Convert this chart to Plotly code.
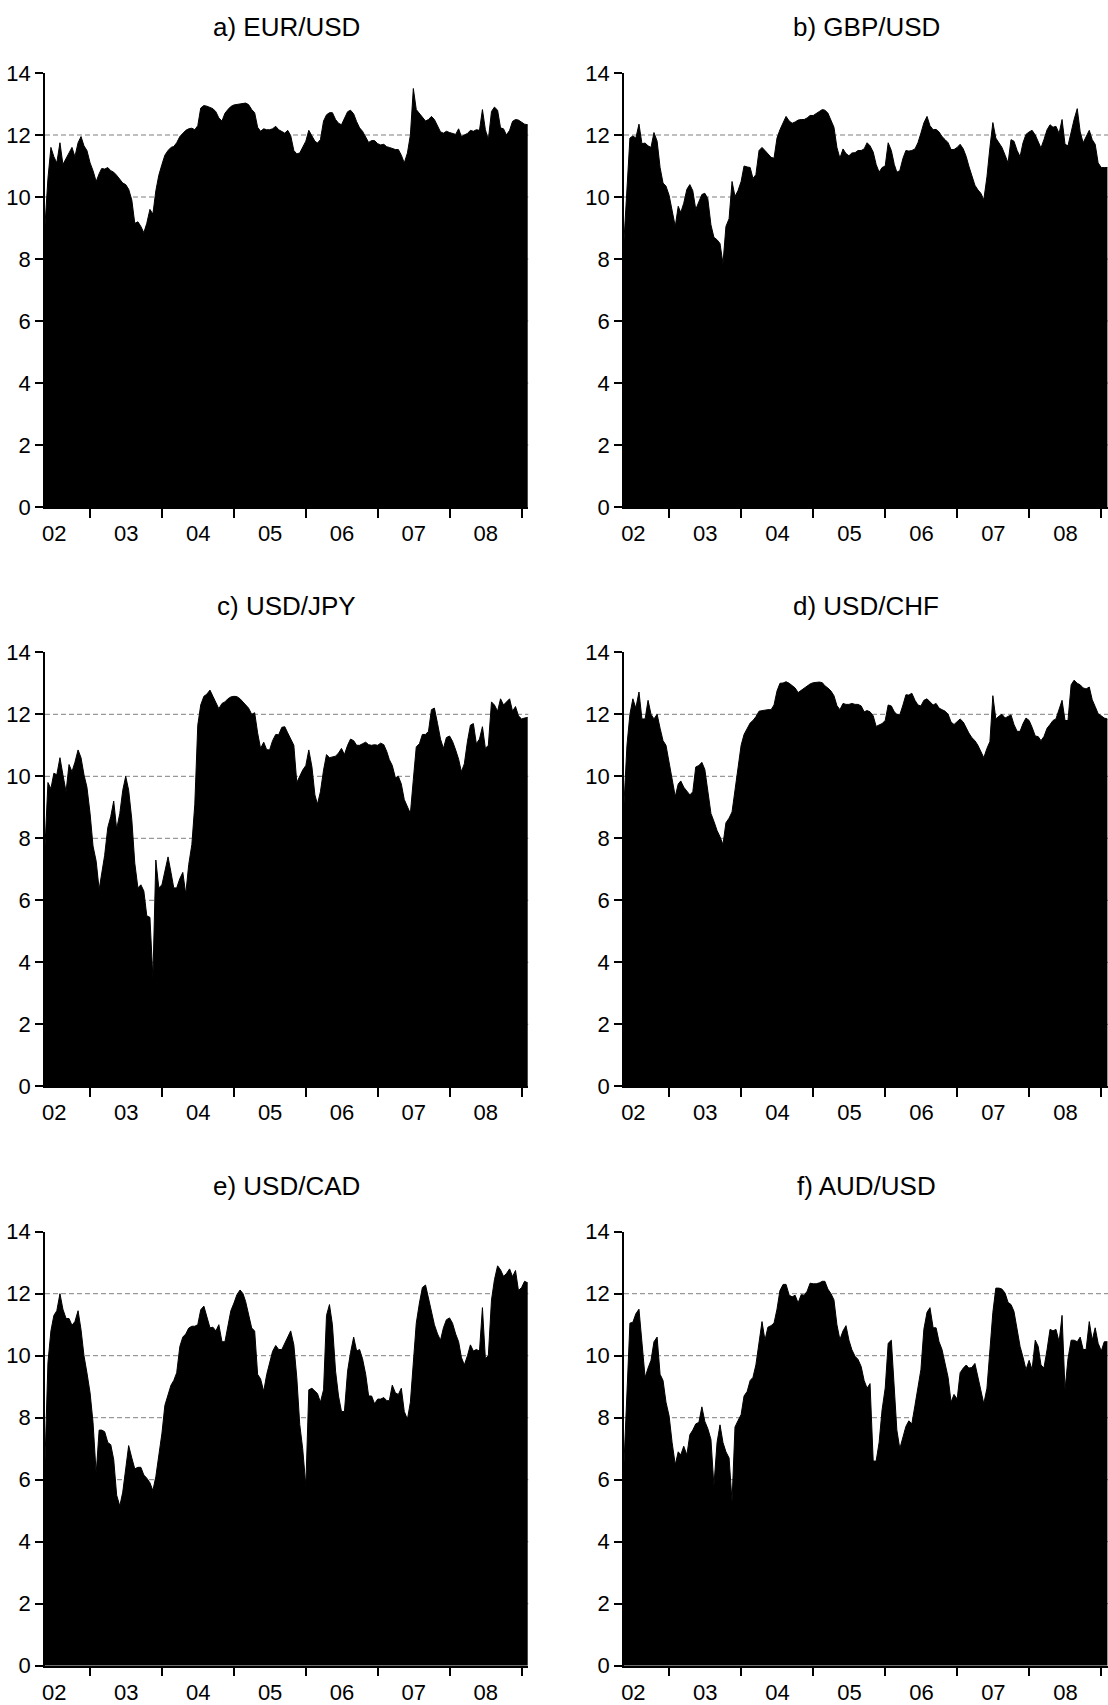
import pandas as pd
import plotly.graph_objects as go

# Semi-monthly observation dates: the 15th and the last day of each month,
# May 2002 through January 2009.
months = pd.period_range("2002-05", "2009-01", freq="M")
dates = []
for p in months:
    dates.append(p.start_time + pd.Timedelta(days=14))
    dates.append(p.end_time.normalize())

# Series values, one row per calendar year (2002 starts mid-May, 2009 ends in January).
eur_usd = (
    [9.0, 10.6, 11.6, 11.3, 11.1, 11.75, 11.05, 11.25, 11.4, 11.6, 11.3, 11.75, 11.95, 11.65, 11.5, 11.1]
    + [10.85, 10.5, 10.75, 10.92, 10.9, 10.95, 10.85, 10.8, 10.7, 10.55, 10.45, 10.4, 10.25, 9.9, 9.15, 9.2, 9.05, 8.85, 9.15, 9.6, 9.45, 10.2, 10.7, 11.05]
    + [11.35, 11.5, 11.6, 11.63, 11.75, 11.95, 12.05, 12.15, 12.2, 12.22, 12.17, 12.3, 12.87, 12.95, 12.93, 12.9, 12.85, 12.75, 12.55, 12.45, 12.7, 12.82, 12.92, 12.97]
    + [12.99, 13.01, 13.02, 13.03, 12.98, 12.82, 12.72, 12.25, 12.12, 12.2, 12.17, 12.17, 12.2, 12.28, 12.17, 12.12, 12.06, 12.15, 11.98, 11.5, 11.39, 11.42, 11.6, 11.8]
    + [12.15, 11.96, 11.8, 11.74, 11.85, 12.45, 12.65, 12.72, 12.72, 12.5, 12.38, 12.33, 12.55, 12.75, 12.8, 12.68, 12.43, 12.23, 12.12, 11.92, 11.76, 11.82, 11.82, 11.72]
    + [11.68, 11.7, 11.62, 11.6, 11.57, 11.53, 11.53, 11.35, 11.1, 11.42, 12.0, 13.5, 12.82, 12.7, 12.6, 12.45, 12.5, 12.6, 12.5, 12.3, 12.1, 12.06, 12.12, 12.08]
    + [12.05, 12.02, 12.2, 11.95, 12.0, 12.05, 12.15, 12.12, 12.17, 12.15, 12.82, 12.17, 11.85, 12.76, 12.9, 12.8, 12.23, 12.2, 12.0, 12.15, 12.44, 12.5, 12.48, 12.4]
    + [12.35, 12.33]
)

gbp_usd = (
    [8.5, 10.5, 11.9, 11.97, 11.9, 12.35, 11.72, 11.74, 11.65, 11.6, 12.08, 11.8, 10.95, 10.45, 10.35, 10.05]
    + [9.6, 9.05, 9.7, 9.5, 9.8, 10.25, 10.4, 10.2, 9.6, 9.82, 10.08, 10.12, 9.95, 9.1, 8.7, 8.62, 8.5, 7.85, 9.05, 9.3, 10.5, 10.02, 10.2, 10.5]
    + [11.0, 10.97, 10.95, 10.6, 10.72, 11.5, 11.6, 11.5, 11.38, 11.28, 11.25, 11.9, 12.17, 12.39, 12.6, 12.45, 12.38, 12.42, 12.48, 12.5, 12.5, 12.55, 12.63, 12.63]
    + [12.68, 12.76, 12.82, 12.8, 12.71, 12.45, 12.25, 11.6, 11.25, 11.55, 11.4, 11.33, 11.42, 11.43, 11.5, 11.5, 11.55, 11.75, 11.65, 11.45, 11.05, 10.8, 10.95, 11.0]
    + [11.75, 11.5, 11.05, 10.8, 10.85, 11.25, 11.5, 11.48, 11.5, 11.55, 11.75, 12.06, 12.39, 12.6, 12.3, 12.17, 12.18, 12.1, 11.95, 11.85, 11.75, 11.53, 11.53, 11.6]
    + [11.7, 11.55, 11.3, 11.0, 10.7, 10.38, 10.23, 10.12, 9.91, 10.65, 11.6, 12.4, 11.9, 11.75, 11.6, 11.35, 11.1, 11.85, 11.8, 11.5, 11.3, 11.75, 12.02, 12.1]
    + [12.15, 12.0, 11.8, 11.58, 11.85, 12.17, 12.33, 12.25, 12.28, 12.05, 12.5, 11.7, 11.65, 12.1, 12.5, 12.85, 12.1, 11.75, 11.95, 12.15, 11.85, 11.7, 11.1, 10.95]
    + [10.95, 10.95]
)

usd_jpy = (
    [7.6, 9.8, 9.6, 10.1, 10.05, 10.6, 10.05, 9.5, 10.38, 10.15, 10.45, 10.85, 10.6, 10.05, 9.65, 8.8]
    + [7.75, 7.26, 6.35, 6.8, 7.45, 8.35, 8.7, 9.2, 8.3, 8.8, 9.55, 10.0, 9.55, 8.6, 7.2, 6.4, 6.5, 6.3, 5.5, 5.45, 3.5, 7.3, 6.4, 6.5]
    + [6.94, 7.4, 6.9, 6.4, 6.4, 6.7, 6.9, 6.2, 7.15, 7.8, 9.1, 11.65, 12.3, 12.58, 12.65, 12.78, 12.58, 12.4, 12.18, 12.35, 12.4, 12.5, 12.56, 12.58]
    + [12.57, 12.5, 12.4, 12.3, 12.2, 12.0, 12.05, 11.4, 10.9, 11.1, 10.86, 10.85, 11.15, 11.35, 11.34, 11.58, 11.6, 11.4, 11.2, 11.0, 9.8, 10.0, 10.2, 10.35]
    + [10.85, 10.3, 9.4, 9.1, 9.5, 10.2, 10.7, 10.6, 10.62, 10.65, 10.75, 10.9, 10.7, 11.0, 11.2, 11.15, 11.0, 11.0, 11.05, 11.1, 11.02, 11.0, 11.02, 11.0]
    + [11.07, 11.02, 10.8, 10.54, 10.35, 9.95, 10.0, 9.75, 9.25, 9.0, 8.8, 9.9, 10.95, 11.05, 11.35, 11.35, 11.45, 12.15, 12.2, 11.7, 11.2, 10.9, 11.25, 11.3]
    + [11.13, 10.85, 10.55, 10.15, 10.4, 11.13, 11.65, 11.7, 11.05, 11.2, 11.6, 10.9, 11.0, 12.4, 12.3, 12.1, 12.5, 12.3, 12.4, 12.5, 12.1, 12.25, 11.95, 11.85]
    + [11.88, 11.9]
)

usd_chf = (
    [9.0, 11.0, 12.0, 12.5, 12.2, 12.72, 11.85, 11.85, 12.45, 12.0, 11.85, 12.0, 11.55, 11.15, 11.0, 10.45]
    + [9.9, 9.35, 9.75, 9.85, 9.65, 9.52, 9.4, 9.5, 10.3, 10.35, 10.45, 10.22, 9.5, 8.8, 8.55, 8.25, 8.05, 7.8, 8.5, 8.65, 8.85, 9.5, 10.25, 11.0]
    + [11.35, 11.55, 11.72, 11.8, 11.92, 12.1, 12.12, 12.15, 12.15, 12.15, 12.3, 12.75, 13.0, 13.01, 13.05, 13.0, 12.92, 12.85, 12.7, 12.78, 12.85, 12.92, 12.98, 13.02]
    + [13.04, 13.04, 13.02, 12.92, 12.85, 12.75, 12.6, 12.28, 12.15, 12.35, 12.32, 12.32, 12.35, 12.32, 12.32, 12.27, 12.08, 12.12, 12.08, 11.95, 11.61, 11.65, 11.7, 11.8]
    + [12.3, 12.27, 12.08, 12.0, 11.98, 12.3, 12.63, 12.62, 12.68, 12.45, 12.3, 12.27, 12.45, 12.5, 12.4, 12.3, 12.35, 12.2, 12.15, 12.1, 12.0, 11.75, 11.67, 11.77]
    + [11.85, 11.75, 11.55, 11.4, 11.25, 11.15, 11.0, 10.8, 10.6, 10.9, 11.12, 12.6, 11.85, 11.94, 12.0, 11.88, 11.92, 11.98, 11.67, 11.45, 11.45, 11.7, 11.88, 11.8]
    + [11.58, 11.3, 11.28, 11.15, 11.28, 11.55, 11.67, 11.8, 11.85, 12.15, 12.45, 11.8, 11.8, 12.95, 13.1, 13.0, 12.95, 12.85, 12.82, 12.88, 12.47, 12.25, 12.02, 11.95]
    + [11.88, 11.85]
)

usd_cad = (
    [6.4, 9.78, 10.8, 11.3, 11.45, 12.0, 11.5, 11.2, 11.2, 10.98, 11.1, 11.45, 10.84, 10.0, 9.45, 8.8]
    + [7.85, 6.2, 7.6, 7.6, 7.55, 7.2, 7.13, 6.65, 5.5, 5.15, 5.6, 6.45, 7.1, 6.7, 6.35, 6.4, 6.4, 6.15, 6.05, 5.9, 5.65, 6.1, 6.75, 7.5]
    + [8.4, 8.75, 9.05, 9.2, 9.45, 10.3, 10.6, 10.7, 10.89, 10.95, 10.95, 11.0, 11.48, 11.6, 11.3, 10.9, 10.92, 10.8, 11.0, 10.45, 10.45, 10.9, 11.45, 11.7]
    + [11.97, 12.12, 12.0, 11.75, 11.35, 10.89, 10.8, 9.4, 9.25, 8.85, 9.39, 9.8, 10.14, 10.33, 10.2, 10.2, 10.4, 10.6, 10.8, 10.35, 9.3, 7.78, 7.0, 5.8]
    + [8.9, 8.95, 8.85, 8.78, 8.5, 8.9, 11.3, 11.65, 11.0, 9.5, 8.7, 8.2, 8.2, 9.5, 10.1, 10.6, 10.15, 10.2, 9.9, 9.4, 8.7, 8.7, 8.45, 8.6]
    + [8.6, 8.65, 8.55, 8.55, 9.05, 8.8, 8.75, 8.95, 8.2, 7.95, 8.5, 9.8, 11.05, 11.7, 12.2, 12.28, 11.85, 11.35, 11.0, 10.7, 10.5, 10.9, 11.16, 11.22]
    + [11.05, 10.7, 10.45, 9.95, 9.7, 10.0, 10.35, 10.15, 10.2, 10.15, 11.55, 9.9, 10.0, 11.8, 12.45, 12.9, 12.77, 12.56, 12.65, 12.8, 12.55, 12.75, 12.1, 12.2]
    + [12.4, 12.35]
)

aud_usd = (
    [6.4, 9.0, 11.05, 11.08, 11.35, 11.5, 10.5, 9.3, 9.6, 9.85, 10.45, 10.6, 9.4, 9.2, 8.5, 8.05]
    + [7.2, 6.48, 6.9, 6.8, 7.08, 6.8, 7.45, 7.6, 7.8, 7.85, 8.35, 7.88, 7.65, 7.3, 5.8, 7.2, 7.77, 7.2, 6.9, 6.7, 5.3, 7.7, 7.9, 8.1]
    + [8.7, 8.85, 9.2, 9.3, 9.7, 10.35, 11.1, 10.5, 10.92, 10.97, 11.05, 11.5, 12.1, 12.3, 12.3, 11.95, 11.9, 11.95, 11.7, 11.97, 11.95, 12.08, 12.34, 12.32]
    + [12.32, 12.35, 12.4, 12.4, 12.15, 12.0, 11.8, 11.0, 10.52, 10.8, 10.97, 10.5, 10.19, 9.98, 9.88, 9.65, 9.2, 8.95, 9.1, 6.6, 6.6, 7.2, 8.25, 8.96]
    + [10.4, 10.5, 9.1, 7.6, 7.0, 7.4, 7.72, 7.9, 7.8, 8.4, 8.95, 9.55, 10.85, 11.4, 11.55, 10.9, 10.9, 10.45, 10.2, 9.75, 9.3, 8.5, 8.75, 8.6]
    + [9.45, 9.6, 9.7, 9.6, 9.62, 9.75, 9.3, 8.85, 8.45, 8.95, 10.2, 11.4, 12.18, 12.18, 12.15, 12.02, 11.72, 11.65, 11.43, 10.8, 10.3, 9.95, 9.55, 9.85]
    + [9.55, 10.5, 10.3, 9.7, 9.6, 10.2, 10.85, 10.8, 10.85, 10.45, 11.3, 8.9, 9.9, 10.5, 10.5, 10.45, 10.6, 10.2, 10.2, 11.1, 10.5, 10.9, 10.4, 10.15]
    + [10.45, 10.45]
)

titles = ["a) EUR/USD", "b) GBP/USD", "c) USD/JPY", "d) USD/CHF", "e) USD/CAD", "f) AUD/USD"]
series = [eur_usd, gbp_usd, usd_jpy, usd_chf, usd_cad, aud_usd]
y_ticks = [0, 2, 4, 6, 8, 10, 12, 14]
grid_levels = [2, 4, 6, 8, 10, 12]

W, H = 1108, 1705
FONT = "Liberation Sans, Arial, Helvetica, sans-serif"

# Panel geometry in pixels
col_px = [(45.0, 528.3), (624.0, 1108.0)]
row_px = [(73.0, 507.0), (652.3, 1086.3), (1231.7, 1665.7)]
title_px = [26.8, 606.4, 1185.7]
x_range = ["2002-05-16", "2009-02-03"]

fig = go.Figure()
shapes = []
annotations = []
layout = {}

for k, (title, vals) in enumerate(zip(titles, series)):
    assert len(vals) == len(dates), (title, len(vals))
    r, c = divmod(k, 2)
    n = "" if k == 0 else str(k + 1)
    xa, ya = "x" + n, "y" + n

    fig.add_trace(go.Scatter(
        x=dates, y=vals, xaxis=xa, yaxis=ya,
        mode="lines", line=dict(color="black", width=1),
        fill="tozeroy", fillcolor="black",
        hoverinfo="skip", showlegend=False,
    ))

    x0, x1 = col_px[c]
    top, bot = row_px[r]
    xdom = [x0 / W, min(x1 / W, 1.0)]
    ydom = [1 - bot / H, 1 - top / H]

    layout["xaxis" + n] = dict(
        domain=xdom, anchor=ya, type="date", range=x_range,
        tick0="2003-01-01", dtick="M12", tickformat="%y",
        ticklabelmode="period", ticks="outside", ticklen=9,
        ticklabelstandoff=-3,
        tickcolor="black", tickwidth=1.5,
        showline=True, linecolor="black", linewidth=1.5,
        showgrid=False, zeroline=False, automargin=False,
        tickfont=dict(family=FONT, size=22, color="black"),
    )
    layout["yaxis" + n] = dict(
        domain=ydom, anchor=xa, range=[0, 14],
        tickvals=y_ticks, ticks="outside", ticklen=8,
        tickcolor="black", tickwidth=1.5,
        showline=True, linecolor="black", linewidth=1.5,
        showgrid=False, zeroline=False, automargin=False,
        tickfont=dict(family=FONT, size=22, color="black"),
    )

    for v in grid_levels:
        shapes.append(dict(
            type="line", layer="below",
            xref=xa + " domain", yref=ya,
            x0=0, x1=1, y0=v, y1=v,
            line=dict(color="#7f7f7f", width=1, dash="5px,3px"),
        ))

    annotations.append(dict(
        text=title, showarrow=False,
        xref="paper", yref="paper",
        x=(xdom[0] + xdom[1]) / 2, y=1 - title_px[r] / H,
        xanchor="center", yanchor="middle",
        font=dict(family=FONT, size=26, color="black"),
    ))

fig.update_layout(
    template="none",
    width=W, height=H,
    margin=dict(l=0, r=0, t=0, b=0, pad=0),
    paper_bgcolor="white", plot_bgcolor="white",
    shapes=shapes, annotations=annotations,
    font=dict(family=FONT, color="black"),
    **layout,
)

fig.write_html("out.html")
